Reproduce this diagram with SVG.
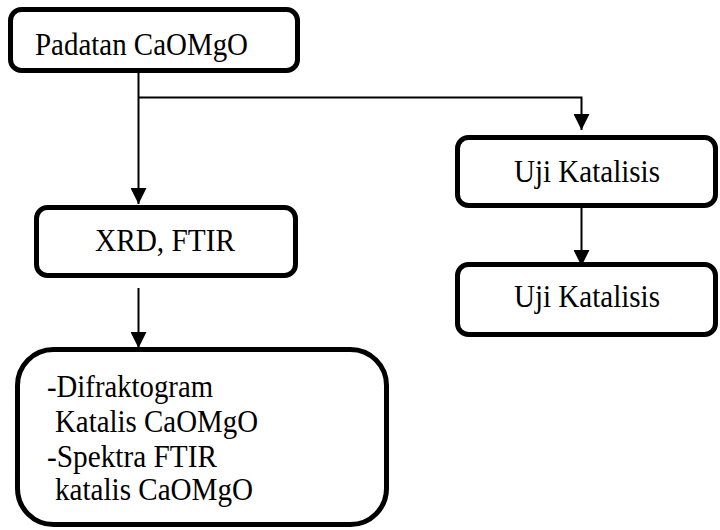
<svg xmlns="http://www.w3.org/2000/svg" width="720" height="530" viewBox="0 0 720 530">
<defs>
<style>
.box{fill:#fff;stroke:#000;stroke-width:5}
.ln{fill:none;stroke:#000;stroke-width:2}
</style>
<marker id="ah" markerUnits="userSpaceOnUse" markerWidth="18" markerHeight="16" refX="16" refY="8" orient="auto">
<path d="M0,0 L16,8 L0,16 Z" fill="#000"/>
</marker>
</defs>
<rect width="720" height="530" fill="#fff"/>
<g id="connectors">
<line class="ln" x1="138.5" y1="73" x2="138.5" y2="204" marker-end="url(#ah)"/>
<polyline class="ln" points="138.5,97.5 581.5,97.5 581.5,130" marker-end="url(#ah)"/>
<line class="ln" x1="138.5" y1="288" x2="138.5" y2="348" marker-end="url(#ah)"/>
<line class="ln" x1="581.5" y1="208" x2="581.5" y2="266" marker-end="url(#ah)"/>
</g>
<g font-family="'Times New Roman', 'Liberation Serif', 'DejaVu Serif', serif" font-size="31" fill="#000">
<g id="padatan">
<rect class="box" x="10.5" y="9.5" width="287" height="61" rx="11"/>
<text x="35" y="55" textLength="213" lengthAdjust="spacingAndGlyphs">Padatan CaOMgO</text>
</g>
<g id="xrd">
<rect class="box" x="36.5" y="207.5" width="259" height="68" rx="11"/>
<text x="95" y="251" textLength="140" lengthAdjust="spacingAndGlyphs">XRD, FTIR</text>
</g>
<g id="uji1">
<rect class="box" x="457.5" y="137.5" width="258" height="68" rx="11"/>
<text x="514" y="182" textLength="146" lengthAdjust="spacingAndGlyphs">Uji Katalisis</text>
</g>
<g id="uji2">
<rect class="box" x="457.5" y="264.5" width="258" height="70" rx="11"/>
<text x="514" y="307" textLength="146" lengthAdjust="spacingAndGlyphs">Uji Katalisis</text>
</g>
<g id="hasil">
<rect class="box" x="17.5" y="349.5" width="369" height="175" rx="36"/>
<text x="47" y="397" textLength="166" lengthAdjust="spacingAndGlyphs">-Difraktogram</text>
<text x="55" y="432" textLength="203" lengthAdjust="spacingAndGlyphs">Katalis CaOMgO</text>
<text x="47" y="467" textLength="170" lengthAdjust="spacingAndGlyphs">-Spektra FTIR</text>
<text x="55" y="500" textLength="198" lengthAdjust="spacingAndGlyphs">katalis CaOMgO</text>
</g>
</g>
</svg>
